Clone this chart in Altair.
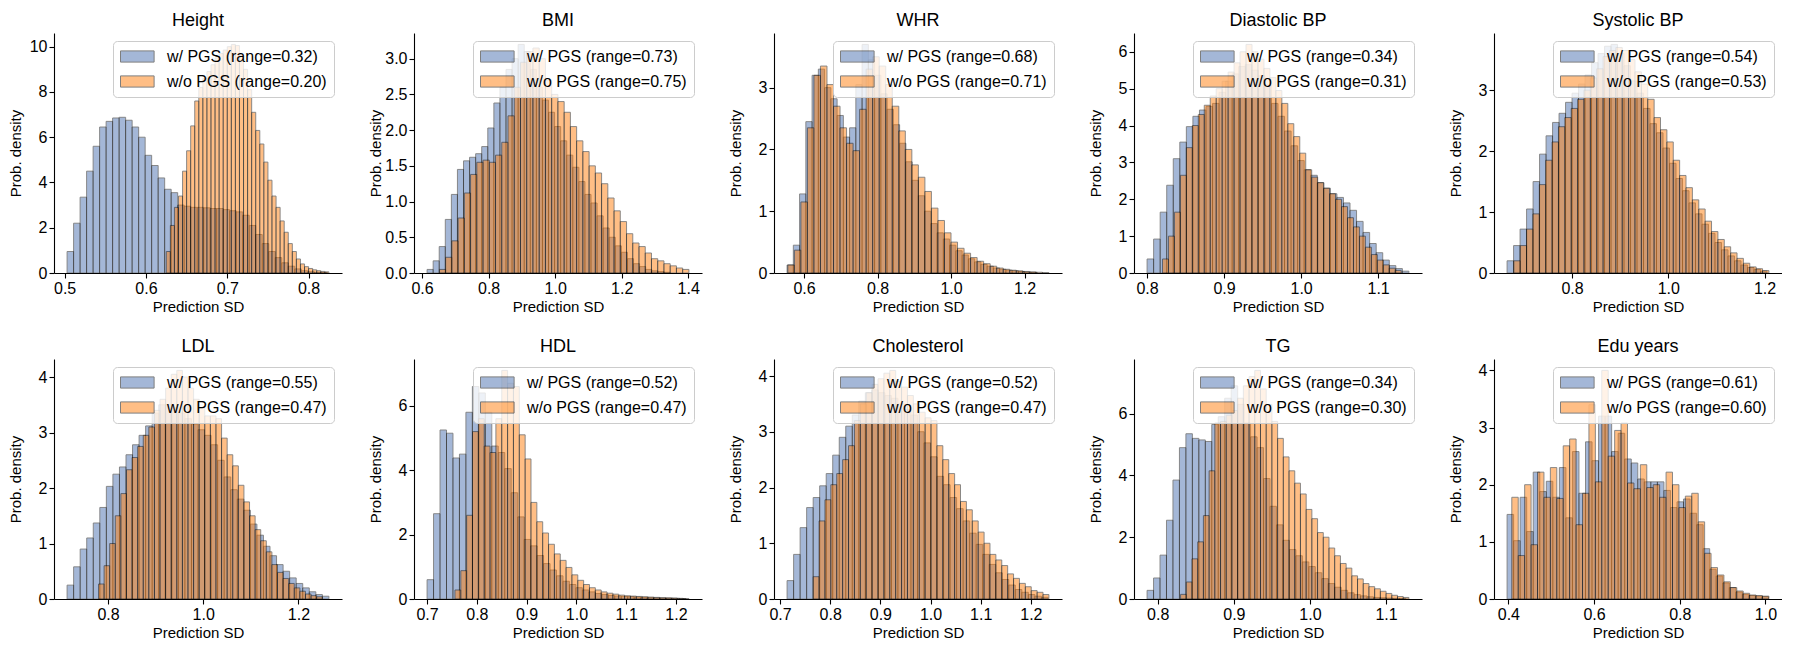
import altair as alt
import pandas as pd

# ---------------- data ----------------
titles = ["Height", "BMI", "WHR", "Diastolic BP", "Systolic BP",
          "LDL", "HDL", "Cholesterol", "TG", "Edu years"]

# first bin edge of each histogram and the span (range) of its 40 bins
w_start = [0.503, 0.615, 0.554, 0.800, 0.665, 0.714, 0.700, 0.714, 0.786, 0.397]
wo_start = [0.625, 0.652, 0.556, 0.820, 0.679, 0.780, 0.756, 0.766, 0.830, 0.408]
w_range = [0.32, 0.73, 0.68, 0.34, 0.54, 0.55, 0.52, 0.52, 0.34, 0.61]
wo_range = [0.20, 0.75, 0.71, 0.31, 0.53, 0.47, 0.47, 0.47, 0.30, 0.60]

x_ticks = [[0.5, 0.6, 0.7, 0.8], [0.6, 0.8, 1.0, 1.2, 1.4], [0.6, 0.8, 1.0, 1.2],
           [0.8, 0.9, 1.0, 1.1], [0.8, 1.0, 1.2], [0.8, 1.0, 1.2],
           [0.7, 0.8, 0.9, 1.0, 1.1, 1.2], [0.7, 0.8, 0.9, 1.0, 1.1, 1.2],
           [0.8, 0.9, 1.0, 1.1], [0.4, 0.6, 0.8, 1.0]]
y_ticks = [[0, 2, 4, 6, 8, 10], [0, 0.5, 1.0, 1.5, 2.0, 2.5, 3.0], [0, 1, 2, 3],
           [0, 1, 2, 3, 4, 5, 6], [0, 1, 2, 3], [0, 1, 2, 3, 4], [0, 2, 4, 6],
           [0, 1, 2, 3, 4], [0, 2, 4, 6], [0, 1, 2, 3, 4]]
y_format = ["d", ".1f", "d", "d", "d", "d", "d", "d", "d", "d"]

height_w = [0.95, 2.2, 3.35, 4.5, 5.6, 6.45, 6.7, 6.85, 6.88, 6.75, 6.45, 6.0, 5.2, 4.75, 4.2, 3.7, 3.55, 3.0, 2.95, 2.9,
            2.9, 2.88, 2.85, 2.85, 2.8, 2.75, 2.7, 2.55, 2.1, 1.7, 1.3, 0.95, 0.68, 0.45, 0.3, 0.18, 0.1, 0.06, 0.03, 0.02]
height_wo = [0.95, 2.1, 2.9, 3.4, 4.5, 5.4, 6.5, 7.6, 8.2, 8.6, 8.9, 9.2, 9.5, 9.7, 9.85, 10.0, 10.1, 10.05, 9.6, 9.0,
             8.1, 7.1, 6.3, 5.7, 4.9, 4.1, 3.4, 2.9, 2.3, 1.8, 1.3, 0.95, 0.62, 0.4, 0.28, 0.2, 0.14, 0.1, 0.07, 0.05]
bmi_w = [0.05, 0.17, 0.37, 0.75, 1.1, 1.45, 1.57, 1.62, 1.67, 1.77, 2.03, 2.38, 2.6, 2.85, 3.0, 3.2, 3.1, 2.85, 2.6, 2.42,
         2.25, 2.05, 1.85, 1.65, 1.48, 1.28, 1.1, 0.98, 0.8, 0.63, 0.5, 0.38, 0.29, 0.2, 0.13, 0.09, 0.05, 0.03, 0.02, 0.01]
bmi_wo = [0.05, 0.22, 0.45, 0.77, 1.12, 1.38, 1.55, 1.58, 1.55, 1.65, 1.83, 2.2, 2.6, 2.95, 3.1, 3.15, 3.0, 2.7, 2.5, 2.4,
          2.25, 2.05, 1.85, 1.7, 1.5, 1.4, 1.25, 1.05, 0.87, 0.72, 0.55, 0.42, 0.37, 0.28, 0.2, 0.17, 0.13, 0.1, 0.07, 0.05]
whr_w = [0.13, 0.45, 1.28, 2.45, 3.2, 3.3, 3.0, 2.82, 2.55, 2.2, 2.35, 3.05, 3.7, 3.45, 3.2, 2.9, 2.65, 2.4, 2.1, 1.8,
         1.5, 1.25, 1.0, 0.8, 0.65, 0.55, 0.45, 0.36, 0.29, 0.23, 0.18, 0.14, 0.11, 0.08, 0.06, 0.045, 0.035, 0.025, 0.015, 0.01]
whr_wo = [0.13, 0.37, 1.15, 2.35, 3.2, 3.35, 3.05, 2.7, 2.35, 2.1, 1.98, 2.65, 3.3, 3.5, 3.35, 3.05, 2.7, 2.3, 2.0, 1.75,
          1.55, 1.32, 1.05, 0.85, 0.65, 0.5, 0.4, 0.32, 0.25, 0.19, 0.15, 0.11, 0.08, 0.06, 0.045, 0.035, 0.025, 0.018, 0.012, 0.008]
dia_w = [0.38, 0.92, 1.65, 2.38, 3.1, 3.55, 3.97, 4.25, 4.42, 4.52, 4.6, 4.9, 5.2, 5.4, 5.6, 5.65, 5.5, 5.35, 5.1, 4.6,
         4.25, 3.85, 3.45, 3.05, 2.8, 2.65, 2.45, 2.3, 2.15, 2.05, 1.9, 1.7, 1.4, 1.1, 0.8, 0.55, 0.35, 0.2, 0.12, 0.05]
dia_wo = [0.38, 1.0, 1.65, 2.65, 3.4, 4.0, 4.3, 4.55, 4.8, 5.0, 5.2, 5.45, 5.7, 6.0, 6.2, 6.0, 5.8, 5.55, 5.3, 4.95,
          4.6, 4.05, 3.7, 3.25, 2.8, 2.6, 2.45, 2.3, 2.15, 2.0, 1.8, 1.5, 1.25, 1.0, 0.7, 0.5, 0.35, 0.22, 0.13, 0.07]
sys_w = [0.2, 0.45, 0.72, 1.05, 1.5, 1.95, 2.25, 2.47, 2.62, 2.8, 2.95, 3.1, 3.25, 3.45, 3.6, 3.72, 3.75, 3.6, 3.4, 3.15,
         2.95, 2.7, 2.45, 2.3, 2.05, 1.8, 1.55, 1.35, 1.15, 0.97, 0.8, 0.65, 0.5, 0.38, 0.28, 0.2, 0.13, 0.09, 0.06, 0.03]
sys_wo = [0.2, 0.45, 0.72, 0.97, 1.45, 1.85, 2.15, 2.4, 2.55, 2.7, 2.85, 3.0, 3.2, 3.35, 3.55, 3.65, 3.7, 3.65, 3.5, 3.3,
          3.1, 2.85, 2.55, 2.35, 2.15, 1.85, 1.6, 1.4, 1.2, 1.05, 0.85, 0.68, 0.55, 0.43, 0.33, 0.24, 0.16, 0.1, 0.07, 0.04]
ldl_w = [0.25, 0.58, 0.9, 1.1, 1.37, 1.65, 2.03, 2.25, 2.38, 2.6, 2.78, 2.95, 3.12, 3.35, 3.5, 3.5, 3.45, 3.35, 3.25, 3.15,
         3.05, 2.95, 2.78, 2.5, 2.2, 1.97, 1.8, 1.6, 1.35, 1.15, 0.95, 0.78, 0.62, 0.5, 0.38, 0.28, 0.2, 0.13, 0.08, 0.05]
ldl_wo = [0.27, 0.6, 1.0, 1.5, 1.9, 2.33, 2.55, 2.75, 2.95, 3.1, 3.4, 3.6, 3.8, 4.05, 4.12, 4.0, 3.8, 3.6, 3.45, 3.3,
          3.3, 3.25, 2.9, 2.6, 2.4, 2.05, 1.75, 1.5, 1.25, 1.05, 0.85, 0.62, 0.48, 0.37, 0.28, 0.2, 0.14, 0.09, 0.06, 0.04]
hdl_w = [0.6, 2.65, 5.25, 5.15, 4.38, 4.5, 5.8, 6.6, 6.4, 5.8, 4.75, 4.55, 4.05, 3.3, 2.55, 1.85, 1.65, 1.35, 1.1, 0.9,
         0.72, 0.55, 0.45, 0.35, 0.28, 0.22, 0.17, 0.14, 0.11, 0.09, 0.08, 0.07, 0.06, 0.05, 0.04, 0.035, 0.03, 0.025, 0.02, 0.015]
hdl_wo = [0.28, 0.88, 2.6, 5.2, 5.6, 4.75, 4.55, 5.6, 7.1, 6.7, 6.6, 5.1, 4.35, 3.0, 2.4, 2.05, 1.7, 1.4, 1.2, 0.98,
          0.75, 0.58, 0.45, 0.35, 0.28, 0.22, 0.18, 0.15, 0.12, 0.1, 0.09, 0.08, 0.07, 0.06, 0.05, 0.04, 0.035, 0.03, 0.02, 0.015]
chol_w = [0.33, 0.8, 1.28, 1.64, 1.82, 2.03, 2.25, 2.58, 2.9, 3.1, 3.3, 3.55, 3.7, 3.75, 3.7, 3.65, 3.6, 3.5, 3.4, 3.3,
          3.0, 2.8, 2.55, 2.2, 2.05, 1.82, 1.62, 1.4, 1.18, 0.98, 0.8, 0.62, 0.47, 0.35, 0.25, 0.17, 0.12, 0.08, 0.05, 0.03]
chol_wo = [0.4, 1.4, 1.78, 2.05, 2.25, 2.5, 2.75, 3.2, 3.5, 3.7, 3.85, 3.95, 4.05, 4.1, 3.9, 3.8, 3.65, 3.5, 3.35, 3.25,
           3.2, 2.75, 2.5, 2.25, 2.05, 1.75, 1.6, 1.4, 1.2, 1.0, 0.8, 0.7, 0.6, 0.45, 0.37, 0.28, 0.22, 0.15, 0.12, 0.08]
tg_w = [0.28, 0.68, 1.42, 2.55, 3.85, 4.9, 5.35, 5.2, 5.15, 5.1, 5.65, 5.9, 6.5, 6.9, 6.3, 5.7, 5.25, 4.9, 3.9, 3.0,
        2.4, 1.9, 1.6, 1.4, 1.2, 1.05, 0.85, 0.66, 0.5, 0.38, 0.28, 0.2, 0.14, 0.1, 0.07, 0.05, 0.04, 0.03, 0.02, 0.01]
tg_wo = [0.15, 0.55, 1.3, 1.85, 2.7, 4.15, 5.7, 5.75, 5.95, 6.1, 6.5, 6.9, 7.2, 7.4, 6.8, 6.3, 5.75, 5.2, 4.6, 4.15,
         3.75, 3.4, 2.9, 2.6, 2.15, 2.0, 1.65, 1.4, 1.15, 1.0, 0.75, 0.65, 0.5, 0.4, 0.33, 0.25, 0.18, 0.12, 0.08, 0.05]
edu_w = [1.48, 1.02, 1.78, 1.18, 2.22, 1.88, 2.06, 1.78, 2.3, 1.42, 2.58, 1.85, 2.75, 2.42, 3.2, 3.2, 2.58, 2.9, 2.45, 2.38,
         2.1, 2.05, 2.05, 2.05, 1.9, 1.6, 1.7, 1.75, 1.5, 1.3, 0.88, 0.52, 0.4, 0.28, 0.2, 0.12, 0.08, 0.06, 0.05, 0.04]
edu_wo = [1.78, 0.76, 2.0, 0.95, 2.22, 1.78, 2.3, 1.76, 2.68, 2.8, 1.3, 1.85, 3.4, 2.05, 4.0, 2.5, 2.95, 3.08, 2.03, 1.93,
          2.35, 1.95, 2.0, 1.78, 2.22, 2.0, 1.6, 1.8, 1.85, 1.35, 0.8, 0.55, 0.42, 0.3, 0.2, 0.14, 0.1, 0.07, 0.06, 0.05]

w_values = [height_w, bmi_w, whr_w, dia_w, sys_w, ldl_w, hdl_w, chol_w, tg_w, edu_w]
wo_values = [height_wo, bmi_wo, whr_wo, dia_wo, sys_wo, ldl_wo, hdl_wo, chol_wo, tg_wo, edu_wo]

BLUE = "#4C72B0"
ORANGE = "#FF7F0E"
FONT = "Liberation Sans"


def panel(i):
    lab_w = f"w/ PGS (range={w_range[i]:.2f})"
    lab_wo = f"w/o PGS (range={wo_range[i]:.2f})"
    rows = []
    for lab, start, rng, vals in [(lab_w, w_start[i], w_range[i], w_values[i]),
                                  (lab_wo, wo_start[i], wo_range[i], wo_values[i])]:
        bw = rng / len(vals)
        for k, v in enumerate(vals):
            rows.append({"x0": start + k * bw, "x1": start + (k + 1) * bw, "d": v, "s": lab})
    df = pd.DataFrame(rows)
    lo = df["x0"].min()
    hi = df["x1"].max()
    span = hi - lo
    ytop = 1.05 * df["d"].max()
    return alt.Chart(df).mark_rect(opacity=0.5, stroke="black", strokeWidth=0.9).encode(
        x=alt.X("x0:Q",
                scale=alt.Scale(domain=[lo - 0.05 * span, hi + 0.05 * span], nice=False, zero=False),
                axis=alt.Axis(values=x_ticks[i], format=".1f", title="Prediction SD")),
        x2="x1:Q",
        y=alt.Y("d:Q", scale=alt.Scale(domain=[0, ytop], nice=False, zero=True),
                axis=alt.Axis(values=y_ticks[i], format=y_format[i], title="Prob. density",
                              minExtent=28, maxExtent=28)),
        y2=alt.datum(0),
        color=alt.Color("s:N",
                        scale=alt.Scale(domain=[lab_w, lab_wo], range=[BLUE, ORANGE]),
                        legend=alt.Legend(title=None, orient="top-right", offset=8,
                                          fillColor="rgba(255,255,255,0.8)", strokeColor="#cccccc",
                                          cornerRadius=4, padding=7,
                                          symbolType="M-1,-0.7L3.2,-0.7L3.2,0.7L-1,0.7Z", symbolSize=256,
                                          symbolStrokeColor="black", symbolStrokeWidth=1,
                                          symbolOpacity=0.5, labelFontSize=16, labelFont=FONT,
                                          labelColor="black", labelOffset=30, rowPadding=8,
                                          labelLimit=400)),
    ).properties(width=288, height=240,
                 title=alt.Title(titles[i], fontSize=18, fontWeight="normal", font=FONT,
                                 color="black", offset=3, anchor="middle", frame="group"))


charts = [panel(i) for i in range(10)]
row1 = alt.hconcat(*charts[:5], spacing=26).resolve_scale(color="independent").resolve_legend(color="independent")
row2 = alt.hconcat(*charts[5:], spacing=26).resolve_scale(color="independent").resolve_legend(color="independent")
chart = alt.vconcat(row1, row2, spacing=24).resolve_scale(color="independent").resolve_legend(
    color="independent"
).properties(padding={"top": 4, "left": 0, "right": 0, "bottom": 0}).configure_view(
    stroke=None
).configure_axis(
    grid=False, domainColor="black", domainWidth=1.1, tickColor="black", tickWidth=1.1,
    tickSize=5, labelFontSize=16, titleFontSize=15, labelFont=FONT, titleFont=FONT,
    labelColor="black", titleColor="black", titleFontWeight="normal", labelPadding=2,
    titlePadding=3
)

chart.save("out.html", embed_options={"renderer": "svg", "actions": False})
